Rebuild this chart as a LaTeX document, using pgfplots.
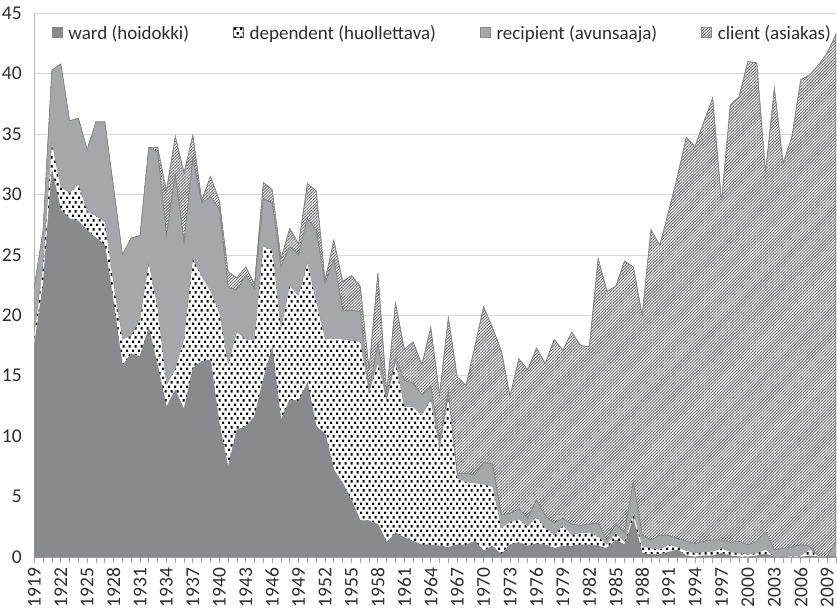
\documentclass[border=0pt]{standalone}
\usepackage{fontspec}
\setmainfont{Carlito}
\usepackage{pgfplots}
\usepackage{pgfplotstable}
\pgfplotsset{compat=1.18}
\usetikzlibrary{patterns.meta}

\definecolor{wardc}{RGB}{137,138,142}
\definecolor{recc}{RGB}{166,167,171}
\definecolor{edgec}{RGB}{135,135,138}
\definecolor{hatchc}{RGB}{110,110,113}
\definecolor{txt}{RGB}{45,45,45}

\pgfdeclarepattern{
  name=checkdots,
  type=uncolored,
  bottom left={\pgfpoint{0pt}{0pt}},
  top right={\pgfpoint{6pt}{8.8pt}},
  tile size={\pgfpoint{6pt}{8.8pt}},
  code={
    \pgfpathrectangle{\pgfpoint{0pt}{0pt}}{\pgfpoint{2.5pt}{2.5pt}}
    \pgfpathrectangle{\pgfpoint{3pt}{4.4pt}}{\pgfpoint{2.5pt}{2.5pt}}
    \pgfusepath{fill}
  }
}

\pgfplotsset{
  sq legend/.style={legend image code/.code={\draw[##1] (0pt,-4.5pt) rectangle (10pt,5.5pt);}},
  sqdot legend/.style={legend image code/.code={\draw[##1, draw=black!60, line width=0.5pt] (0pt,-4.5pt) rectangle (10pt,5.5pt);}},
}

% year, ward, dependent, recipient, client (stacked on top of each other)
\pgfplotstableread{
year ward dep rec cli
1919 17.5 0.8 4.0 0
1920 22.5 1.5 3.0 0
1921 32.0 2.2 6.1 0
1922 28.7 1.9 10.2 0
1923 28.0 2.1 6.0 0
1924 27.8 3.0 5.5 0
1925 27.0 1.6 5.1 0
1926 26.4 1.8 7.8 0
1927 25.8 1.9 8.3 0
1928 21.0 1.5 8.0 0
1929 15.8 2.2 7.0 0
1930 16.8 1.5 8.1 0
1931 16.6 3.0 7.0 0
1932 18.9 5.4 9.6 0
1933 15.8 4.7 13.0 0.4
1934 12.4 1.8 12.4 3.7
1935 13.8 1.7 16.1 3.2
1936 12.2 5.8 8.0 5.8
1937 15.6 9.0 8.4 1.9
1938 16.2 7.0 6.1 0.2
1939 16.3 5.7 7.8 1.7
1940 11.0 9.2 8.6 0.7
1941 7.4 8.5 6.4 1.3
1942 10.5 8.1 3.5 1.0
1943 10.8 7.2 5.3 0.7
1944 11.6 6.4 4.2 0.4
1945 14.7 11.0 3.9 1.4
1946 17.3 8.1 3.9 1.1
1947 11.3 7.5 5.2 0.7
1948 13.0 9.4 3.3 1.5
1949 12.9 8.7 3.4 0.9
1950 14.4 9.9 3.7 2.9
1951 10.8 10.3 5.9 3.3
1952 10.2 7.8 4.6 0.3
1953 7.2 10.9 6.5 1.6
1954 6.1 11.9 2.4 2.4
1955 4.7 13.2 2.5 2.9
1956 3.0 14.8 2.5 2.1
1957 3.0 10.6 0.2 1.7
1958 2.7 13.3 1.6 5.9
1959 1.2 11.7 0.2 0.5
1960 2.0 14.1 0.4 4.5
1961 1.6 10.8 2.2 2.6
1962 1.3 11.1 2.0 3.4
1963 1.0 10.7 1.7 2.5
1964 1.0 12.0 1.1 4.9
1965 0.9 7.9 0.8 3.8
1966 0.8 12.4 0.4 6.2
1967 1.0 5.5 0.4 8.0
1968 1.0 5.2 0.7 7.3
1969 1.3 4.8 0.7 10.6
1970 0.5 5.5 1.8 12.9
1971 0.9 4.9 1.9 11.3
1972 0.2 2.2 1.1 13.6
1973 1.0 1.9 0.7 9.7
1974 1.2 1.9 0.9 12.4
1975 0.9 1.6 0.7 12.3
1976 1.1 2.2 1.4 12.6
1977 1.0 1.4 1.0 12.6
1978 0.7 1.1 1.0 15.2
1979 0.9 1.7 0.6 13.9
1980 0.9 0.9 0.9 15.9
1981 1.0 1.0 0.6 14.9
1982 1.0 1.0 0.7 14.7
1983 0.9 0.8 1.1 21.9
1984 0.7 0.3 0.4 20.6
1985 1.4 0.6 0.7 19.7
1986 1.0 0.2 0.8 22.5
1987 3.1 0.5 2.6 17.8
1988 0.3 0.6 0.9 18.2
1989 0.2 0.5 0.7 25.7
1990 0.2 0.4 1.2 24.0
1991 0.4 0.6 0.8 26.8
1992 0.6 0.2 0.7 30.0
1993 0.1 0.4 0.8 33.4
1994 0.0 0.3 0.8 32.9
1995 0.1 0.3 0.9 34.7
1996 0.1 0.35 0.95 36.6
1997 0.3 0.4 0.7 28.0
1998 0.1 0.3 0.8 36.2
1999 0.0 0.3 1.0 36.8
2000 0.0 0.2 0.8 40.0
2001 0.1 0.2 1.0 39.6
2002 0.25 0.35 1.5 29.7
2003 0.0 0.05 0.55 38.2
2004 0.0 0.0 0.7 31.9
2005 0.0 0.1 0.7 34.0
2006 0.0 0.1 0.9 38.5
2007 0.1 0.5 0.3 39.0
2008 0.0 0.05 0.05 40.6
2009 0.0 0.0 0.0 41.7
2010 0.0 0.0 1.3 42.0
}\data

\begin{document}
\begin{tikzpicture}
\begin{axis}[
    name=ax,
    scale only axis,
    width=801.7pt, height=543.7pt,
    xmin=1919, xmax=2010,
    ymin=0, ymax=45,
    stack plots=y,
    no markers,
    ytick={0,5,...,45},
    xtick={1919,1922,...,2009},
    minor xtick={1919,...,2010},
    axis lines*=left,
    axis line style={draw=black!30, line width=0.8pt},
    ymajorgrids,
    major grid style={draw=black!15, line width=0.8pt},
    ytick style={draw=none},
    xtick style={draw=black!35, line width=0.8pt},
    minor tick style={draw=black!35, line width=0.8pt},
    tick align=outside,
    major tick length=6pt,
    minor tick length=6pt,
    tick label style={font=\fontsize{19.5}{22}\selectfont, text=txt},
    yticklabel style={xshift=-3pt},
    /pgf/number format/assume math mode=true,
    /pgf/number format/1000 sep={},
    xticklabel style={rotate=90, anchor=east, xshift=-1pt},
    legend columns=4,
    legend style={at={(0.509,0.964)}, anchor=center, draw=none, fill=none,
        font=\fontsize{19}{21}\selectfont, text=txt,
        /tikz/every odd column/.append style={column sep=4pt},
        /tikz/every even column/.append style={column sep=42pt}},
]
\addplot[fill=wardc, draw=edgec, line width=0.6pt, sq legend]
    table[x=year, y=ward] {\data} \closedcycle;
\addlegendentry{ward (hoidokki)}
\addplot[fill=white, draw=none, postaction={pattern=checkdots, pattern color=black}, sqdot legend]
    table[x=year, y=dep] {\data} \closedcycle;
\addlegendentry{dependent (huollettava)}
\addplot[fill=recc, draw=edgec, line width=0.6pt, sq legend]
    table[x=year, y=rec] {\data} \closedcycle;
\addlegendentry{recipient (avunsaaja)}
\addplot[fill=white, draw=edgec, line width=0.6pt,
    postaction={pattern={Lines[angle=45, distance=2.1pt, line width=0.95pt]}, pattern color=hatchc},
    sq legend]
    table[x=year, y=cli] {\data} \closedcycle;
\addlegendentry{client (asiakas)}
\end{axis}
\pgfresetboundingbox
\path ([shift={(-34.3pt,-54pt)}]ax.south west) rectangle ([shift={(1pt,13.3pt)}]ax.north east);
\end{tikzpicture}
\end{document}
